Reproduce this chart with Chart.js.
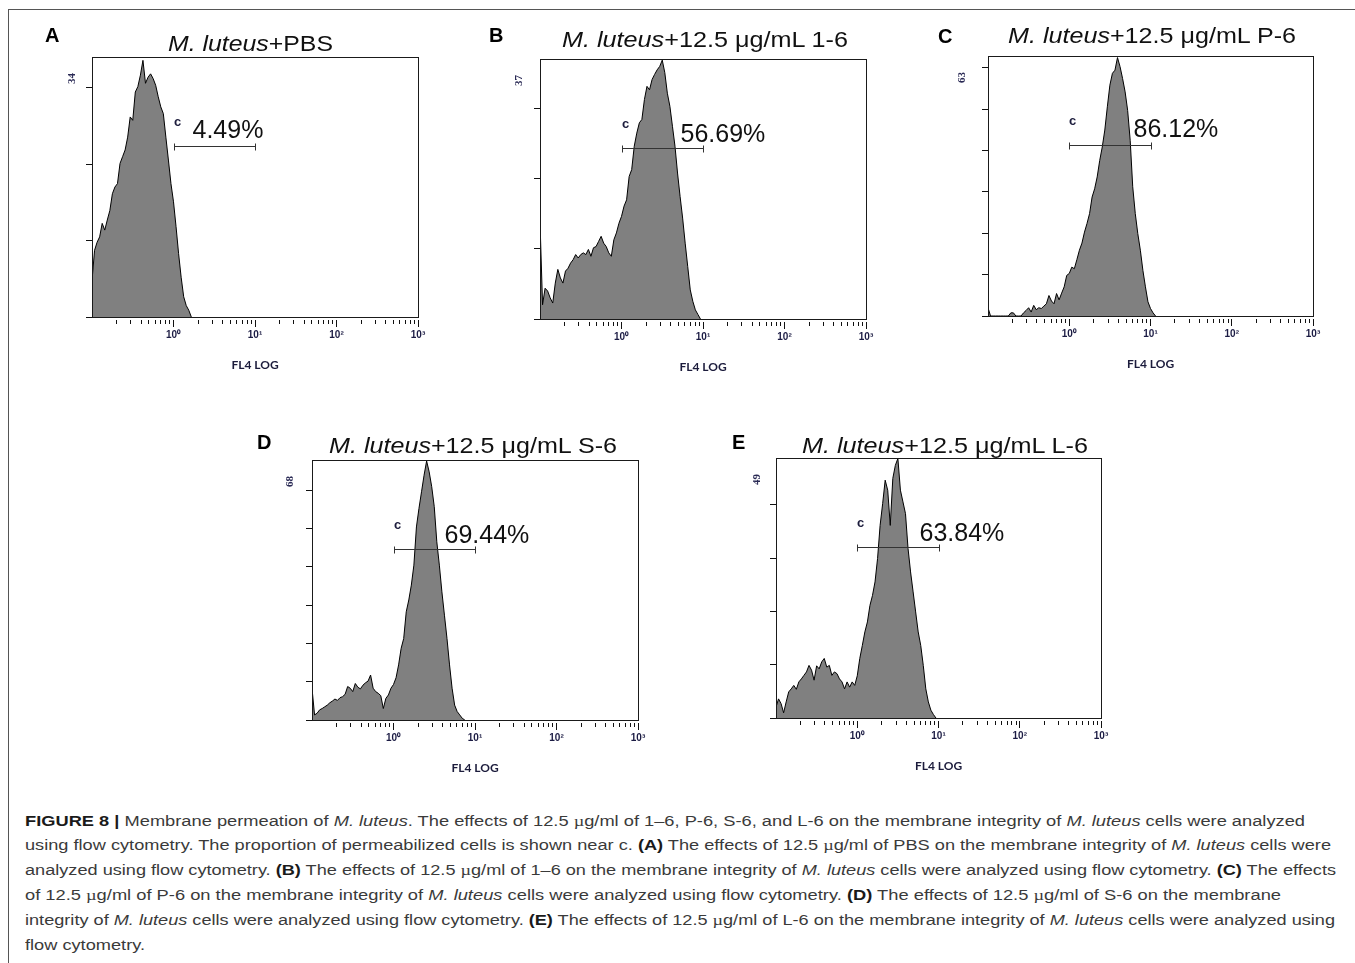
<!DOCTYPE html>
<html>
<head>
<meta charset="utf-8">
<script src="https://cdn.jsdelivr.net/npm/chart.js@4.4.0/dist/chart.umd.min.js"></script>
<style>
  html, body { margin: 0; padding: 0; background: #fff; }
  #page { position: relative; width: 1355px; height: 963px; overflow: hidden; }
  #frame { position: absolute; left: 8px; top: 9px; width: 1400px; height: 1000px;
           border-left: 1px solid #555; border-top: 1px solid #555; }
  canvas { position: absolute; }
  .fit { position: absolute; white-space: nowrap; transform-origin: 0 0; }
  .letter { font: bold 20px "Liberation Sans", Arial, sans-serif; line-height: 20px; color: #000; }
  .title { font: 22px "Liberation Sans", Arial, sans-serif; line-height: 22px; color: #111; }
  .cap { font: 15.5px "Liberation Sans", Arial, sans-serif; line-height: 16px; color: #3a3a3a; }
  .cap b { color: #1a1a1a; }
  .mu { font-family: "Liberation Serif", serif; }
</style>
</head>
<body>
<div id="page"><div id="frame"></div></div>
<script>
// FL4 channel scale: 32 channels per decade, first channel at 10^-1
var CH_PER_DECADE = 32;
var FL4_MIN = 0.1, FL4_MAX = 1000;

var xTicks = [0.2, 0.3, 0.4, 0.5, 0.6, 0.7, 0.8, 0.9, 1, 2, 3, 4, 5, 6, 7, 8, 9,
	10, 20, 30, 40, 50, 60, 70, 80, 90, 100, 200, 300, 400, 500, 600, 700, 800, 900, 1000];
var decadeLabels = {1: '10\u2070', 10: '10\u00b9', 100: '10\u00b2', 1000: '10\u00b3'};

var panelNames = ['A', 'B', 'C', 'D', 'E'];
var sampleNames = ['PBS', '12.5 \u03bcg/mL 1-6', '12.5 \u03bcg/mL P-6', '12.5 \u03bcg/mL S-6', '12.5 \u03bcg/mL L-6'];
var percentLabels = ['4.49%', '56.69%', '86.12%', '69.44%', '63.84%'];
var yTopLabels = [34, 37, 63, 68, 49];
var yDivisions = [3, 3, 6, 6, 4];
var yMax = [38.6, 45.6, 66.0, 76.9, 59.8];
var gateRange = [1, 10];
var gateCounts = [25.4, 30.0, 43.4, 50.6, 39.3];

// counts per channel, starting at the first channel
var countsA = [5.4, 9.9, 11.1, 11.9, 13.9, 12.9, 14.4, 15.8, 18.3, 19.3, 19.8, 22.8, 23.8, 24.8,
	26.7, 29.7, 29.2, 33.4, 34.2, 35.9, 38.1, 34.7, 35.6, 36.1, 35.4, 34.4, 32.7, 31.2, 30.2,
	26.7, 23.3, 19.8, 17.1, 13.4, 9.4, 5.9, 3.0, 1.7, 1.0, 0];
var countsB = [17.1, 2.5, 5.4, 4.9, 3.7, 2.8, 6.3, 8.7, 7.2, 6.3, 8.4, 8.9, 9.8, 10.4, 11.3,
	10.7, 11.3, 11.6, 11.3, 12.2, 11.0, 12.5, 12.7, 13.6, 14.5, 13.3, 12.7, 11.6, 11.0, 13.9,
	15.1, 16.8, 18.0, 19.8, 20.9, 25.0, 26.2, 30.3, 32.6, 34.4, 35.0, 38.5, 40.8, 40.2, 42.0,
	42.9, 43.7, 44.3, 45.4, 43.2, 39.6, 37.3, 33.8, 30.3, 25.6, 21.5, 17.7, 13.3, 9.2, 5.1,
	3.1, 1.6, 0.8, 0];
var countsC = [2.1, 0, 0, 0, 0, 0, 0, 0, 0, 0.8, 0.8, 0, 0, 0, 0.8, 1.4, 2.1, 1.0, 2.7, 1.6,
	2.1, 1.9, 2.5, 3.1, 5.2, 3.8, 3.1, 5.7, 4.1, 5.8, 7.4, 10.3, 10.8, 12.4, 12.0, 14.3, 16.7,
	18.5, 21.3, 23.5, 26.0, 30.2, 32.3, 35.3, 39.5, 42.9, 47.2, 53.1, 58.6, 61.6, 62.4, 65.6,
	63.3, 60.3, 56.9, 52.2, 44.6, 32.8, 26.0, 20.9, 16.7, 11.6, 7.4, 3.6, 1.9, 0.8, 0];
var countsD = [9.4, 1.5, 2.0, 3.0, 3.4, 3.9, 4.4, 5.1, 5.6, 6.2, 5.8, 6.6, 6.9, 7.6, 9.9, 9.4,
	8.4, 10.8, 9.7, 9.2, 10.3, 11.0, 11.5, 13.3, 9.4, 8.4, 7.9, 7.2, 3.4, 6.4, 7.4, 9.4, 10.5,
	12.5, 16.3, 21.2, 24.1, 32.0, 35.5, 39.9, 45.8, 57.1, 62.6, 67.5, 72.4, 76.6, 73.4, 69.0,
	63.1, 52.7, 45.8, 37.9, 31.0, 24.1, 16.3, 9.4, 4.4, 2.5, 1.5, 0.5, 0];
var countsE = [2.5, 4.4, 3.3, 1.2, 3.7, 6.0, 6.7, 7.5, 6.6, 8.3, 9.0, 9.8, 10.6, 12.1, 11.0,
	8.7, 12.0, 11.3, 12.9, 13.7, 11.7, 12.1, 9.8, 10.6, 10.2, 9.0, 8.3, 6.7, 8.3, 7.1, 8.3,
	7.5, 9.7, 13.7, 16.7, 19.8, 22.1, 25.9, 28.2, 31.3, 36.7, 44.3, 49.3, 54.7, 52.4, 44.3,
	55.1, 58.1, 59.7, 52.4, 49.7, 47.0, 39.0, 33.6, 29.0, 24.4, 19.8, 16.7, 12.1, 6.7, 3.7,
	1.8, 0.8, 0];
var counts = [countsA, countsB, countsC, countsD, countsE];

// page layout of each panel (plot box left/top/width, label offsets)
var layout = [
	{L: 92, T: 57, W: 326, pctDx: 18, pctDy: -15, yLblDx: -20, letter: [45, 42], title: [168, 52, 165]},
	{L: 540, T: 59, W: 326, pctDx: 58, pctDy: -13.5, yLblDx: -21, letter: [489, 42], title: [562, 48, 286]},
	{L: 988, T: 56, W: 325, pctDx: 64, pctDy: -15, yLblDx: -26, letter: [938, 43], title: [1008, 44, 288]},
	{L: 312, T: 460, W: 326, pctDx: 50, pctDy: -13, yLblDx: -22, letter: [257, 449], title: [329, 454, 288]},
	{L: 776, T: 458, W: 325, pctDx: 62, pctDy: -13.7, yLblDx: -19, letter: [732, 449], title: [802, 454, 286]}
];
var PLOT_H = 260;

var captionLines = [
	'<b>FIGURE 8 |</b> Membrane permeation of <i>M. luteus</i>. The effects of 12.5 <span class="mu">\u00b5</span>g/ml of 1\u20136, P-6, S-6, and L-6 on the membrane integrity of <i>M. luteus</i> cells were analyzed',
	'using flow cytometry. The proportion of permeabilized cells is shown near c. <b>(A)</b> The effects of 12.5 <span class="mu">\u00b5</span>g/ml of PBS on the membrane integrity of <i>M. luteus</i> cells were',
	'analyzed using flow cytometry. <b>(B)</b> The effects of 12.5 <span class="mu">\u00b5</span>g/ml of 1\u20136 on the membrane integrity of <i>M. luteus</i> cells were analyzed using flow cytometry. <b>(C)</b> The effects',
	'of 12.5 <span class="mu">\u00b5</span>g/ml of P-6 on the membrane integrity of <i>M. luteus</i> cells were analyzed using flow cytometry. <b>(D)</b> The effects of 12.5 <span class="mu">\u00b5</span>g/ml of S-6 on the membrane',
	'integrity of <i>M. luteus</i> cells were analyzed using flow cytometry. <b>(E)</b> The effects of 12.5 <span class="mu">\u00b5</span>g/ml of L-6 on the membrane integrity of <i>M. luteus</i> cells were analyzed using',
	'flow cytometry.'
];
var captionEnds = [1305, 1331, 1336, 1281, 1335, 145];

var page = document.getElementById('page');
var fitted = [];

function addText(cls, html, left, top, width) {
	var el = document.createElement('div');
	el.className = 'fit ' + cls;
	el.innerHTML = html;
	el.style.left = left + 'px';
	el.style.top = top + 'px';
	page.appendChild(el);
	fitted.push([el, width]);
	return el;
}

function fitAll() {
	fitted.forEach(function (f) {
		f[0].style.transform = 'none';
		var w = f[0].getBoundingClientRect().width;
		if (w > 0 && f[1]) f[0].style.transform = 'scaleX(' + (f[1] / w) + ')';
	});
}

function panelPlugin(i) {
	var p = layout[i];
	return {
		id: 'panel' + i,
		afterDraw: function (chart) {
			var ctx = chart.ctx, a = chart.chartArea, x = chart.scales.x, y = chart.scales.y;
			ctx.save();
			ctx.strokeStyle = '#1a1a1a';
			ctx.lineWidth = 1;
			ctx.strokeRect(a.left + 0.5, a.top + 0.5, a.right - a.left, a.bottom - a.top);

			// gate marker
			var gy = Math.round(y.getPixelForValue(gateCounts[i])) + 0.5;
			var gx1 = Math.round(x.getPixelForValue(gateRange[0])) + 0.5;
			var gx2 = Math.round(x.getPixelForValue(gateRange[1])) + 0.5;
			ctx.strokeStyle = '#333';
			ctx.beginPath();
			ctx.moveTo(gx1, gy); ctx.lineTo(gx2, gy);
			ctx.moveTo(gx1, gy - 3); ctx.lineTo(gx1, gy + 4);
			ctx.moveTo(gx2, gy - 3); ctx.lineTo(gx2, gy + 4);
			ctx.stroke();

			ctx.textAlign = 'left';
			ctx.textBaseline = 'middle';
			ctx.fillStyle = '#1c1c3c';
			ctx.font = 'bold 13px "Liberation Sans", Arial, sans-serif';
			ctx.fillText('c', gx1 - 0.5, gy - 24);
			ctx.fillStyle = '#111';
			ctx.font = '25px "Liberation Sans", Arial, sans-serif';
			ctx.fillText(percentLabels[i], gx1 + p.pctDx, gy + p.pctDy);

			// count label, rotated
			ctx.translate(a.left + p.yLblDx, a.top + 27);
			ctx.rotate(-Math.PI / 2);
			ctx.font = 'bold 11px "Liberation Serif", serif';
			ctx.fillStyle = '#2a2a55';
			ctx.fillText(String(yTopLabels[i]), 0, 0);
			ctx.restore();
		}
	};
}

function makePanel(i) {
	var p = layout[i];
	var cw = p.W + 85, ch = PLOT_H + 72;
	var cv = document.createElement('canvas');
	cv.width = cw; cv.height = ch;
	cv.style.left = (p.L - 60) + 'px';
	cv.style.top = (p.T - 12) + 'px';
	cv.style.width = cw + 'px';
	cv.style.height = ch + 'px';
	page.appendChild(cv);

	var pts = counts[i].map(function (c, k) {
		return {x: FL4_MIN * Math.pow(10, k / CH_PER_DECADE), y: c};
	});
	var yTickVals = [];
	for (var k = 0; k <= yDivisions[i]; k++) yTickVals.push(yTopLabels[i] * k / yDivisions[i]);

	new Chart(cv, {
		type: 'line',
		data: {
			datasets: [{
				data: pts,
				borderColor: '#000',
				borderWidth: 1,
				backgroundColor: '#808080',
				fill: 'origin',
				pointRadius: 0,
				tension: 0
			}]
		},
		options: {
			responsive: false,
			animation: false,
			events: [],
			layout: {autoPadding: false, padding: {left: 0, top: 12, right: 25, bottom: 0}},
			plugins: {legend: {display: false}, tooltip: {enabled: false}},
			scales: {
				x: {
					type: 'logarithmic',
					min: FL4_MIN,
					max: FL4_MAX,
					afterBuildTicks: function (s) { s.ticks = xTicks.map(function (v) { return {value: v}; }); },
					afterFit: function (s) { s.height = 60; },
					border: {display: true, color: '#111', width: 1},
					grid: {
						drawOnChartArea: false,
						tickLength: 10,
						tickColor: '#111',
						tickWidth: 1,
						tickBorderDash: function (c) {
							return (c.tick && decadeLabels[c.tick.value]) ? [0, 2, 8, 40] : [0, 2, 4, 40];
						}
					},
					ticks: {
						autoSkip: false,
						maxRotation: 0,
						padding: 2,
						color: '#1c1c44',
						font: {family: '"Liberation Sans", Arial, sans-serif', size: 10, weight: 'bold'},
						callback: function (v) { return decadeLabels[v] || ''; }
					},
					title: {
						display: true,
						text: 'FL4 LOG',
						color: '#1c1c3c',
						font: {family: 'Lato, sans-serif', size: 12, weight: 'bold'},
						padding: {top: 0, bottom: 5}
					}
				},
				y: {
					type: 'linear',
					min: 0,
					max: yMax[i],
					afterBuildTicks: function (s) { s.ticks = yTickVals.map(function (v) { return {value: v}; }); },
					afterFit: function (s) { s.width = 60; },
					border: {display: true, color: '#111', width: 1},
					grid: {drawOnChartArea: false, tickLength: 6, tickColor: '#111'},
					ticks: {display: false}
				}
			}
		},
		plugins: [panelPlugin(i)]
	});

	addText('letter', panelNames[i], p.letter[0], p.letter[1] - 16.9, 0);
	addText('title', '<i>M. luteus</i>+' + sampleNames[i], p.title[0], p.title[1] - 18.6, p.title[2]);
}

for (var i = 0; i < layout.length; i++) makePanel(i);

captionLines.forEach(function (line, k) {
	addText('cap', line, 25, 826 + 24.8 * k - 13.5, captionEnds[k] - 25);
});

fitAll();
if (document.fonts && document.fonts.ready) document.fonts.ready.then(fitAll);
</script>
</body>
</html>
